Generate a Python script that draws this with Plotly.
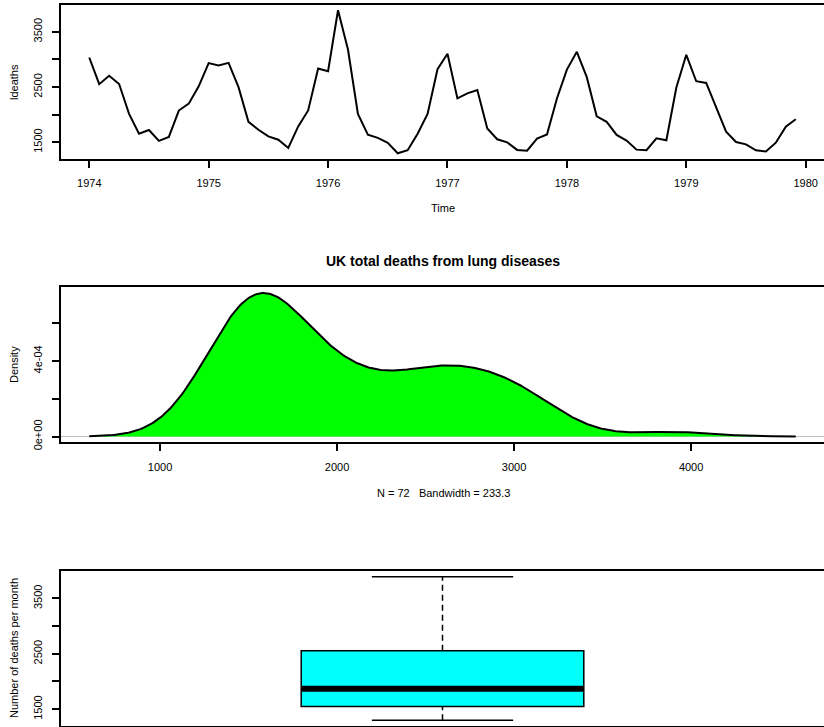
import numpy as np
import plotly.graph_objects as go

# UK monthly deaths from lung diseases, 1974-1979
ldeaths = [3035, 2552, 2704, 2554, 2014, 1655, 1721, 1524, 1596, 2074, 2199, 2512,
           2933, 2889, 2938, 2497, 1870, 1726, 1607, 1545, 1396, 1787, 2076, 2837,
           2787, 3891, 3179, 2011, 1636, 1580, 1489, 1300, 1356, 1653, 2013, 2823,
           3102, 2294, 2385, 2444, 1748, 1554, 1498, 1361, 1346, 1564, 1640, 2293,
           2815, 3137, 2679, 1969, 1870, 1633, 1529, 1366, 1357, 1570, 1535, 2491,
           3084, 2605, 2573, 2143, 1693, 1504, 1461, 1354, 1333, 1492, 1781, 1915]
start_year = 1974
time_ticks = [1974, 1975, 1976, 1977, 1978, 1979, 1980]
deaths_ticks = [1500, 2000, 2500, 3000, 3500]
deaths_ticktext = ["1500", "", "2500", "", "3500"]
density_ticks = [0, 2e-4, 4e-4, 6e-4]
density_ticktext = ["0e+00", "", "4e-04", ""]
dens_x_ticks = [1000, 2000, 3000, 4000]

W, H = 824, 727
FONT = "Liberation Sans, Arial, sans-serif"

y = np.array(ldeaths, dtype=float)
n = len(y)
t = start_year + np.arange(n) / 12.0

# density estimate (R's density with bw.nrd0)
sd = y.std(ddof=1)
iqr = np.percentile(y, 75) - np.percentile(y, 25)
bw = 0.9 * min(sd, iqr / 1.34) * n ** (-0.2)
gx = np.linspace(y.min() - 3 * bw, y.max() + 3 * bw, 512)
gy = np.exp(-0.5 * ((gx[:, None] - y[None, :]) / bw) ** 2).sum(axis=1) / (n * bw * np.sqrt(2 * np.pi))

# boxplot stats (fivenum)
ys = np.sort(y)
med = np.median(ys)
h_lo = np.median(ys[: n // 2])
h_hi = np.median(ys[n - n // 2:])
wmin, wmax = ys.min(), ys.max()


def rpad(lo, hi):
    d = (hi - lo) * 0.04
    return [lo - d, hi + d]


def px(xp):
    return xp / W


def py(yp):
    return 1 - yp / H


axis_common = dict(showline=True, linecolor="black", linewidth=2, ticks="outside",
                   ticklen=7, tickwidth=2, tickcolor="black", showgrid=False,
                   zeroline=False, automargin=False,
                   tickfont=dict(size=11, color="black", family=FONT))

fig = go.Figure()

# panel 1: time series
fig.add_trace(go.Scatter(x=t, y=y, mode="lines", line=dict(color="black", width=2),
                         xaxis="x", yaxis="y", hoverinfo="skip"))

# panel 2: density
fig.add_trace(go.Scatter(x=gx, y=gy, mode="lines", fill="tozeroy", fillcolor="#00FF00",
                         line=dict(color="black", width=2), xaxis="x2", yaxis="y2",
                         hoverinfo="skip"))

# panel 3: boxplot
fig.add_trace(go.Box(x=[1], q1=[h_lo], median=[med], q3=[h_hi], lowerfence=[h_lo],
                     upperfence=[h_hi], width=0.4, fillcolor="#00FFFF",
                     line=dict(color="black", width=1.5), xaxis="x3", yaxis="y3",
                     hoverinfo="skip"))
for a, b in [(h_hi, wmax), (wmin, h_lo)]:
    fig.add_trace(go.Scatter(x=[1, 1], y=[a, b], mode="lines",
                             line=dict(color="black", width=1.5, dash="6px,4px"),
                             xaxis="x3", yaxis="y3", hoverinfo="skip"))
for v in [wmax, wmin]:
    fig.add_trace(go.Scatter(x=[0.9, 1.1], y=[v, v], mode="lines",
                             line=dict(color="black", width=1.5),
                             xaxis="x3", yaxis="y3", hoverinfo="skip"))
fig.add_trace(go.Scatter(x=[0.8, 1.2], y=[med, med], mode="lines",
                         line=dict(color="black", width=6),
                         xaxis="x3", yaxis="y3", hoverinfo="skip"))

ymax = gy.max()
fig.update_layout(
    width=W, height=H, margin=dict(l=0, r=0, t=0, b=0, autoexpand=False),
    paper_bgcolor="white", plot_bgcolor="white", showlegend=False,
    font=dict(family=FONT, size=11, color="black"),
    xaxis=dict(axis_common, domain=[px(61), 1], range=rpad(t.min(), t.max()),
               tickvals=time_ticks, mirror=True, anchor="y", ticklabelstandoff=6),
    yaxis=dict(axis_common, domain=[py(159), py(4.5)], range=rpad(y.min(), y.max()),
               tickvals=deaths_ticks, ticktext=deaths_ticktext, tickangle=-90,
               anchor="x", ticklabelstandoff=6),
    xaxis2=dict(axis_common, domain=[px(61), 1], range=rpad(gx.min(), gx.max()),
                tickvals=dens_x_ticks, mirror=True, anchor="y2", ticklabelstandoff=6),
    yaxis2=dict(axis_common, domain=[py(442.3), py(287.3)], range=rpad(0, ymax),
                tickvals=density_ticks, ticktext=density_ticktext, tickangle=-90,
                anchor="x2", zeroline=True, zerolinecolor="#BEBEBE", zerolinewidth=1,
                ticklabelstandoff=6),
    xaxis3=dict(axis_common, domain=[px(61), 1], range=[0.46, 1.54], mirror=True,
                ticks="", showticklabels=False, anchor="y3"),
    yaxis3=dict(axis_common, domain=[py(726), py(571)], range=rpad(y.min(), y.max()),
                tickvals=deaths_ticks, ticktext=deaths_ticktext, tickangle=-90,
                anchor="x3", ticklabelstandoff=6),
)

ann = [
    dict(text="ldeaths", x=px(14), y=py(82), textangle=-90),
    dict(text="Time", x=px(443), y=py(208)),
    dict(text="<b>UK total deaths from lung diseases</b>", x=px(443), y=py(261),
         font=dict(size=14, family=FONT, color="black")),
    dict(text="N = %d   Bandwidth = %.1f" % (n, bw), x=px(443), y=py(493)),
    dict(text="Density", x=px(14), y=py(365), textangle=-90),
    dict(text="Number of deaths per month", x=px(14), y=py(648), textangle=-90),
]
for a in ann:
    a.setdefault("font", dict(size=11, family=FONT, color="black"))
    fig.add_annotation(xref="paper", yref="paper", xanchor="center", yanchor="middle",
                       showarrow=False, **a)

fig.write_html("out.html")
